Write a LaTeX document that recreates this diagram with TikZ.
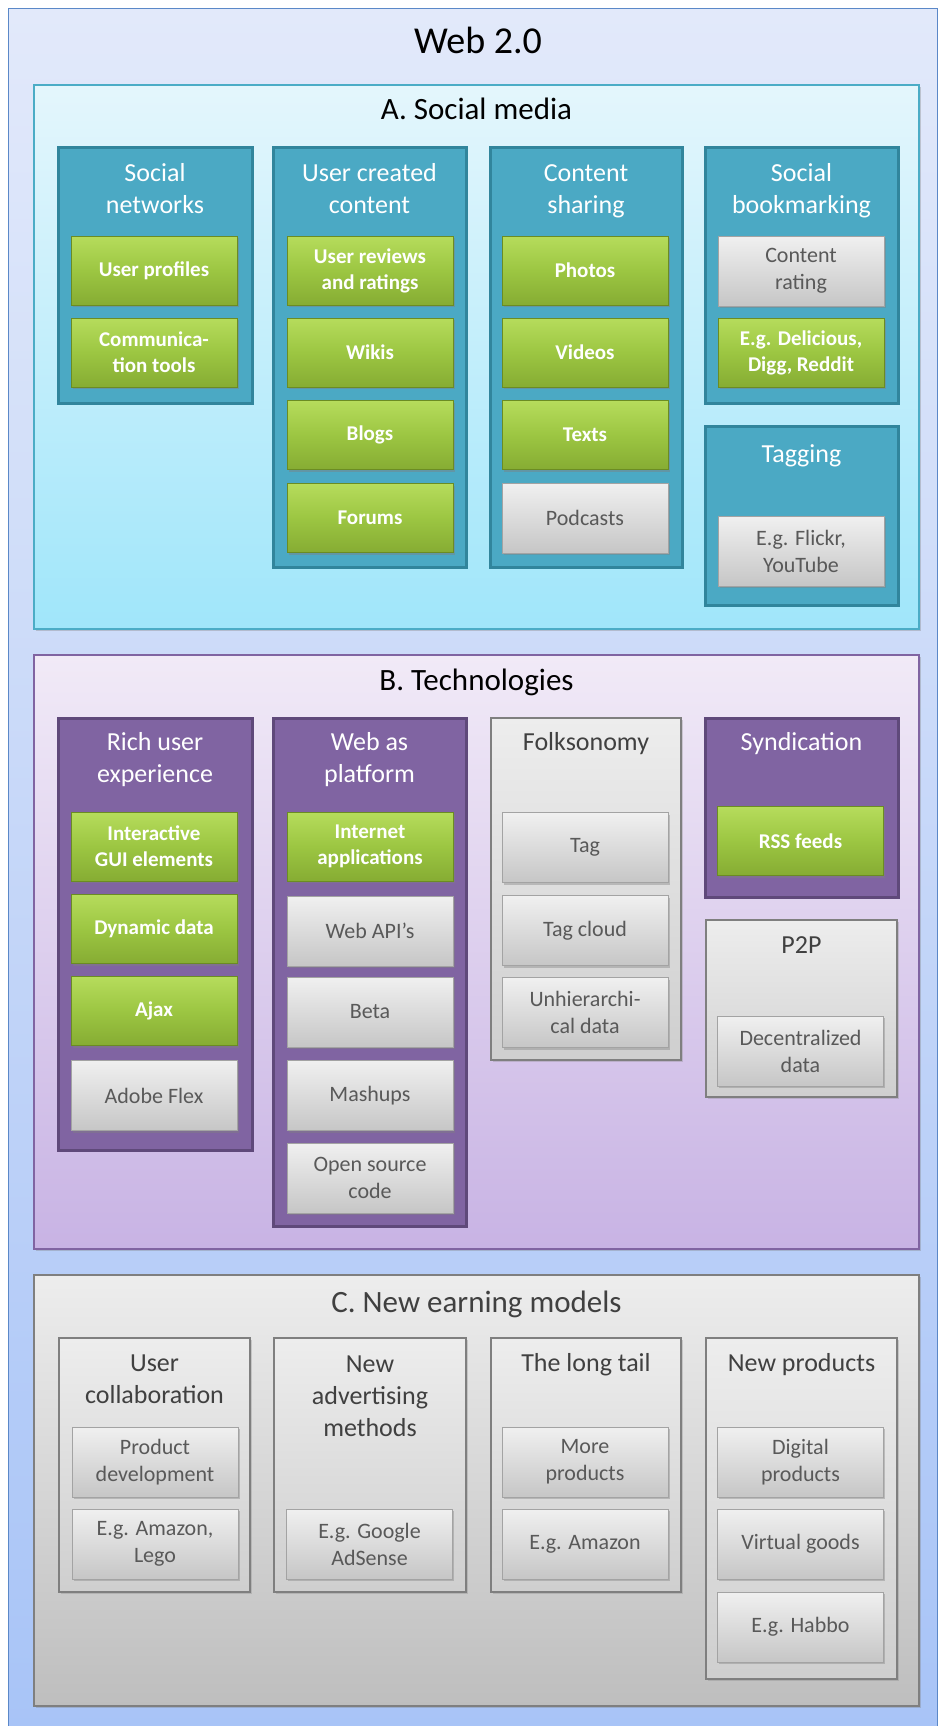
\documentclass[tikz,border=0pt]{standalone}
\usepackage{fontspec}
\setmainfont{Carlito}
\usepackage{xcolor}
\usetikzlibrary{positioning, shadows}

\definecolor{outertop}{HTML}{E2E9FA}
\definecolor{outerbot}{HTML}{A8C4F7}
\definecolor{outeredge}{HTML}{5B88C8}
\definecolor{cyantop}{HTML}{E4F6FC}
\definecolor{cyanbot}{HTML}{A0E6FA}
\definecolor{cyanedge}{HTML}{4BACC6}
\definecolor{lilactop}{HTML}{F1EAF7}
\definecolor{lilacbot}{HTML}{C8B3E4}
\definecolor{lilacedge}{HTML}{8064A2}
\definecolor{greytop}{HTML}{EDEDED}
\definecolor{greybot}{HTML}{BEBEBE}
\definecolor{greyedge}{HTML}{7F7F7F}
\definecolor{tealfill}{HTML}{4BA9C4}
\definecolor{tealedge}{HTML}{31859C}
\definecolor{purplefill}{HTML}{8064A2}
\definecolor{purpleedge}{HTML}{5F497A}
\definecolor{greentop}{HTML}{B6DC5C}
\definecolor{greenmid}{HTML}{9CC642}
\definecolor{greenbot}{HTML}{86AC33}
\definecolor{greenedge}{HTML}{6B8C23}
\definecolor{itemtop}{HTML}{F0F0F0}
\definecolor{itembot}{HTML}{C6C6C6}
\definecolor{itemedge}{HTML}{A3A3A3}
\definecolor{titlegrey}{HTML}{404040}
\definecolor{itemgrey}{HTML}{595959}

\begin{document}
\begin{tikzpicture}[
  x=1pt, y=-1pt,
  section/.style={line width=1.5pt, drop shadow={shadow xshift=2pt, shadow yshift=-2pt, opacity=0.35}},
  tealcol/.style={draw=tealedge, line width=3pt, fill=tealfill},
  purplecol/.style={draw=purpleedge, line width=3pt, fill=purplefill},
  greycol/.style={draw=greyedge, line width=1.5pt, top color=greytop, bottom color=itembot!85!white,
    drop shadow={shadow xshift=1.5pt, shadow yshift=-1.5pt, opacity=0.3}},
  greenitem/.style={draw=greenedge, line width=0.8pt, top color=greentop, bottom color=greenbot,
    middle color=greenmid, minimum width=166pt, minimum height=69pt, inner sep=0pt, align=center,
    text=white, font=\fontsize{21}{26}\selectfont\bfseries,
    drop shadow={shadow xshift=1.5pt, shadow yshift=-2pt, opacity=0.45}},
  greyitem/.style={draw=itemedge, line width=0.8pt, top color=itemtop, bottom color=itembot,
    minimum width=166pt, minimum height=70pt, inner sep=0pt, align=center,
    text=itemgrey, font=\fontsize{22}{27}\selectfont,
    drop shadow={shadow xshift=1.5pt, shadow yshift=-2pt, opacity=0.4}},
  % base = baseline of the last line
  coltitle/.style={anchor=base, align=center, inner sep=0pt, font=\fontsize{26}{32}\selectfont},
  secttitle/.style={anchor=base, inner sep=0pt, font=\fontsize{31}{36}\selectfont},
]
  \useasboundingbox (0,0) rectangle (938,1726);

  % Main frame
  \draw[outeredge, line width=1pt, top color=outertop, bottom color=outerbot] (8,9) rectangle (937,1732);
  \node[secttitle, font=\fontsize{38}{44}\selectfont] (web) at (478,54) {Web 2.0};

  % A. Social media
  \draw[section, draw=cyanedge, top color=cyantop, bottom color=cyanbot] (34,85) rectangle (919,629);
  \node[secttitle] (secA) at (476.5,120) {A. Social media};

  \draw[tealcol] (58,147) rectangle (252,403);
  \draw[tealcol] (273,147) rectangle (466,567);
  \draw[tealcol] (490,147) rectangle (682,567);
  \draw[tealcol] (705,147) rectangle (898,403);
  \draw[tealcol] (705,426) rectangle (898,605);

  \node[coltitle, text=white] (socnet) at (155,213) {Social\\networks};
  \node[coltitle, text=white] (usercont) at (369.5,213) {User created\\content};
  \node[coltitle, text=white] (sharing) at (586,213) {Content\\sharing};
  \node[coltitle, text=white] (bookmark) at (801.5,213) {Social\\bookmarking};
  \node[coltitle, text=white] (tagging) at (801.5,462) {Tagging};

  \node[greenitem] (profiles) at (154,270.5) {User profiles};
  \node[greenitem] (commtools) at (154,352.5) {Communica-\\tion tools};

  \node[greenitem] (reviews) at (370,270.5) {User reviews\\and ratings};
  \node[greenitem] (wikis) at (370,352.5) {Wikis};
  \node[greenitem] (blogs) at (370,435) {Blogs};
  \node[greenitem] (forums) at (370,518) {Forums};

  \node[greenitem] (photos) at (585,270.5) {Photos};
  \node[greenitem] (videos) at (585,352.5) {Videos};
  \node[greenitem] (texts) at (585,435) {Texts};
  \node[greyitem] (podcasts) at (585,518) {Podcasts};

  \node[greyitem] (rating) at (801,271) {Content\\rating};
  \node[greenitem] (delicious) at (801,352.5) {E.g. Delicious,\\Digg, Reddit};
  \node[greyitem] (flickr) at (801,551) {E.g. Flickr,\\YouTube};

  % B. Technologies
  \draw[section, draw=lilacedge, top color=lilactop, bottom color=lilacbot] (34,655) rectangle (919,1249);
  \node[secttitle] (secB) at (476.5,690) {B. Technologies};

  \draw[purplecol] (58,718) rectangle (252,1150);
  \draw[purplecol] (273,718) rectangle (466,1226);
  \draw[greycol] (491,718) rectangle (681,1060);
  \draw[purplecol] (705,718) rectangle (898,897);
  \draw[greycol] (706,920) rectangle (897,1097);

  \node[coltitle, text=white] (richux) at (155,782) {Rich user\\experience};
  \node[coltitle, text=white] (platform) at (369.5,782) {Web as\\platform};
  \node[coltitle, text=titlegrey] (folks) at (586,750) {Folksonomy};
  \node[coltitle, text=white] (syndic) at (801.5,750) {Syndication};
  \node[coltitle, text=titlegrey] (ptp) at (801.5,953) {P2P};

  \node[greenitem] (gui) at (154,846.5) {Interactive\\GUI elements};
  \node[greenitem] (dyndata) at (154,929) {Dynamic data};
  \node[greenitem] (ajax) at (154,1011) {Ajax};
  \node[greyitem] (flex) at (154,1095.5) {Adobe Flex};

  \node[greenitem] (apps) at (370,846.5) {Internet\\applications};
  \node[greyitem] (api) at (370,931) {Web API's};
  \node[greyitem] (beta) at (370,1012) {Beta};
  \node[greyitem] (mashups) at (370,1095.5) {Mashups};
  \node[greyitem] (opensrc) at (370,1178) {Open source\\code};

  \node[greyitem] (tag) at (585,847.5) {Tag};
  \node[greyitem] (tagcloud) at (585,930.5) {Tag cloud};
  \node[greyitem] (unhier) at (585,1012.5) {Unhierarchi-\\cal data};

  \node[greenitem] (rss) at (800.5,841) {RSS feeds};
  \node[greyitem] (decentral) at (800.5,1051) {Decentralized\\data};

  % C. New earning models
  \draw[section, draw=greyedge, top color=greytop, bottom color=greybot] (34,1275) rectangle (919,1706);
  \node[secttitle, text=titlegrey] (secC) at (476.5,1312) {C. New earning models};

  \draw[greycol] (59,1338) rectangle (250,1592);
  \draw[greycol] (274,1338) rectangle (466,1592);
  \draw[greycol] (491,1338) rectangle (681,1592);
  \draw[greycol] (706,1338) rectangle (897,1679);

  \node[coltitle, text=titlegrey] (collab) at (154.5,1403) {User\\collaboration};
  \node[coltitle, text=titlegrey] (advert) at (370,1436) {New\\advertising\\methods};
  \node[coltitle, text=titlegrey] (longtail) at (586,1371) {The long tail};
  \node[coltitle, text=titlegrey] (newprod) at (801.5,1371) {New products};

  \node[greyitem] (proddev) at (155,1462) {Product\\development};
  \node[greyitem] (lego) at (155,1544) {E.g. Amazon,\\Lego};
  \node[greyitem] (adsense) at (369.5,1544) {E.g. Google\\AdSense};
  \node[greyitem] (moreprod) at (585,1462) {More\\products};
  \node[greyitem] (amazon) at (585,1544) {E.g. Amazon};
  \node[greyitem] (digital) at (800.5,1462) {Digital\\products};
  \node[greyitem] (virtual) at (800.5,1544) {Virtual goods};
  \node[greyitem] (habbo) at (800.5,1627) {E.g. Habbo};

\end{tikzpicture}
\end{document}
